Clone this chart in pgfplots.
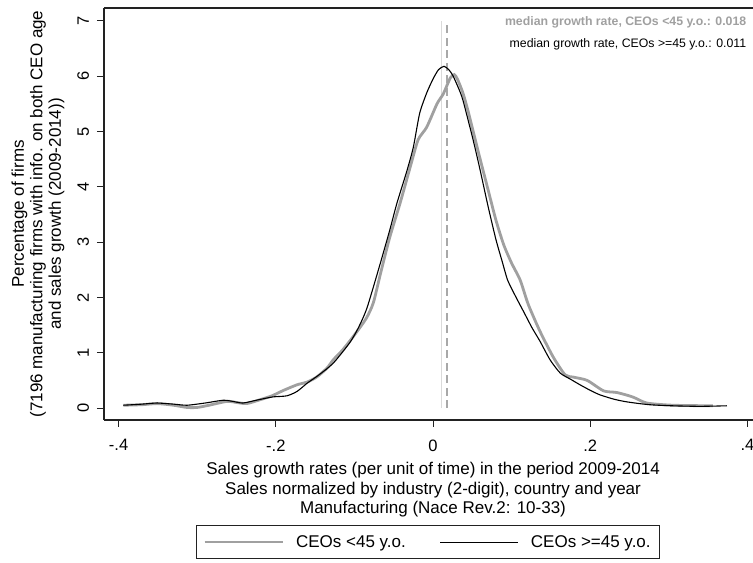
\documentclass[border=0pt]{standalone}
\usepackage{fontspec}
\setmainfont{Liberation Sans}
\usepackage{pgfplots}
\pgfplotsset{compat=1.18}
\usetikzlibrary{calc}
\definecolor{Young}{HTML}{A0A0A0}
\definecolor{MedYoung}{HTML}{A8A8A8}
\definecolor{MedOld}{HTML}{DADADA}
\definecolor{AxisGray}{HTML}{222222}

\begin{document}
\begin{tikzpicture}
\begin{axis}[
  scale only axis,
  width=649pt, height=412pt,
  xmin=-0.4186, xmax=0.4071,
  ymin=-0.217, ymax=7.235,
  axis lines=left,
  axis line style={-, line width=1.1pt, AxisGray},
  xtick={-0.4,-0.2,0,0.2,0.4},
  xticklabels={-.4,-.2,0,.2,.4},
  ytick={0,1,2,3,4,5,6,7},
  /pgf/number format/assume math mode=true,
  tick align=outside,
  major tick length=7pt,
  tick style={line width=1pt, AxisGray},
  ticklabel style={font=\fontsize{16.5}{18}\selectfont},
  yticklabel style={rotate=90, anchor=south},
  xticklabel shift=9pt,
  yticklabel shift=4.5pt,
  xlabel={Sales growth rates (per unit of time) in the period 2009-2014\\Sales normalized by industry (2-digit), country and year\\Manufacturing (Nace Rev.2: 10-33)},
  xlabel style={align=center, font=\fontsize{17}{19.5}\selectfont, at={(rel axis cs:0.507,0)}, anchor=north, inner sep=0pt, yshift=-42pt},
  ylabel={Percentage of firms\\(7196 manufacturing firms with info. on both CEO age\\and sales growth (2009-2014))},
  ylabel style={align=center, font=\fontsize{17}{18.5}\selectfont, at={(rel axis cs:-0.1017,0.5)}, anchor=center},
  legend style={at={(rel axis cs:0.4992,0)}, anchor=north, yshift=-105pt,
    legend columns=2, draw=AxisGray, line width=0.8pt,
    inner xsep=7pt, inner ysep=8pt,
    font=\fontsize{17}{19}\selectfont,
    nodes={inner sep=2pt},
    /tikz/every odd column/.append style={column sep=10pt},
    /tikz/every even column/.append style={column sep=32pt}},
  legend image code/.code={\draw[#1] (0pt,0pt) -- (78pt,0pt);},
  clip=false
]
% median lines
\addplot[MedOld, line width=1.4pt, forget plot] coordinates {(0.011,0) (0.011,7)};
\addplot[MedYoung, line width=1.5pt, dash pattern=on 8pt off 4.5pt, forget plot] coordinates {(0.018,0) (0.018,7)};

% CEOs < 45
\addplot[Young, line width=2.8pt, smooth, tension=0.4] coordinates {
(-0.394,0.05) (-0.37,0.06) (-0.351,0.08) (-0.33,0.05) (-0.313,0.01) (-0.30,0.01)
(-0.285,0.05) (-0.262,0.12) (-0.25,0.10) (-0.237,0.08) (-0.22,0.15) (-0.205,0.22)
(-0.19,0.32) (-0.173,0.42) (-0.16,0.47) (-0.148,0.56) (-0.135,0.72) (-0.127,0.87)
(-0.115,1.05) (-0.10,1.32) (-0.085,1.62) (-0.076,1.9) (-0.067,2.42) (-0.055,3.09)
(-0.042,3.7) (-0.029,4.36) (-0.019,4.85) (-0.008,5.08) (0.005,5.5) (0.013,5.68)
(0.022,5.97) (0.027,6.03) (0.031,5.95) (0.038,5.7) (0.045,5.35) (0.052,4.95)
(0.06,4.5) (0.07,3.95) (0.08,3.4) (0.09,2.95) (0.10,2.62) (0.111,2.31)
(0.121,1.88) (0.136,1.39) (0.153,0.92) (0.168,0.6) (0.178,0.56) (0.196,0.5)
(0.217,0.31) (0.234,0.28) (0.254,0.2) (0.272,0.09) (0.305,0.05) (0.356,0.04)
};
\addlegendentry{CEOs <45 y.o.}

% CEOs >= 45
\addplot[black, line width=1.1pt, smooth, tension=0.4] coordinates {
(-0.394,0.05) (-0.37,0.07) (-0.351,0.09) (-0.33,0.07) (-0.313,0.05) (-0.29,0.09)
(-0.267,0.14) (-0.255,0.12) (-0.242,0.09) (-0.225,0.14) (-0.204,0.2) (-0.186,0.22)
(-0.173,0.3) (-0.16,0.45) (-0.145,0.6) (-0.127,0.81) (-0.106,1.18) (-0.095,1.45)
(-0.084,1.81) (-0.067,2.62) (-0.055,3.22) (-0.046,3.7) (-0.033,4.3) (-0.025,4.72)
(-0.017,5.33) (-0.008,5.7) (0.0,5.95) (0.007,6.12) (0.014,6.18) (0.02,6.12)
(0.025,6.02) (0.032,5.8) (0.038,5.57) (0.051,4.85) (0.06,4.3) (0.07,3.65)
(0.08,3.05) (0.088,2.65) (0.095,2.31) (0.105,2.02) (0.115,1.75) (0.126,1.45)
(0.136,1.21) (0.149,0.87) (0.162,0.63) (0.175,0.52) (0.187,0.42) (0.2,0.32)
(0.212,0.24) (0.23,0.16) (0.247,0.11) (0.275,0.06) (0.305,0.04) (0.34,0.03)
(0.374,0.04)
};
\addlegendentry{CEOs >=45 y.o.}

\node[anchor=east, text=Young, font=\bfseries\fontsize{12.3}{14}\selectfont] at (axis cs:0.403,6.98) {median growth rate, CEOs <45 y.o.: 0.018};
\node[anchor=east, text=black, font=\fontsize{12.3}{14}\selectfont] at (axis cs:0.403,6.58) {median growth rate, CEOs >=45 y.o.: 0.011};

\draw[line width=1.1pt, AxisGray] (rel axis cs:0,1) -- (rel axis cs:1,1);
\coordinate (SW) at (rel axis cs:0,0);
\coordinate (NE) at (rel axis cs:1,1);
\end{axis}
\pgfresetboundingbox
\path[use as bounding box] ($(SW)+(-104pt,-143pt)$) rectangle ($(NE)+(0pt,8pt)$);
\end{tikzpicture}
\end{document}
